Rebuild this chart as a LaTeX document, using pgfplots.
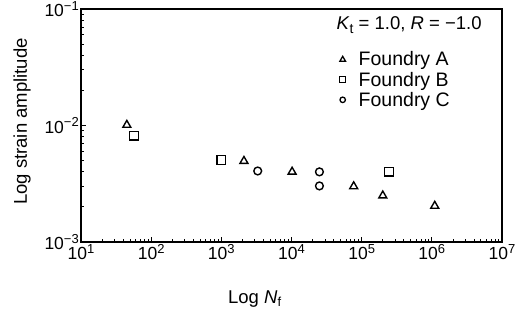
\documentclass[border=0pt]{standalone}
\usepackage{fontspec}
\setmainfont{Liberation Sans}
\usepackage{pgfplots}
\pgfplotsset{compat=1.18}
\newcommand\pw[1]{10\raisebox{6.5pt}{\fontsize{13}{13}\selectfont #1}}
\begin{document}
\begin{tikzpicture}[font=\fontsize{18.5}{22}\selectfont]
\begin{axis}[
  at={(0,0)}, anchor=south west,
  scale only axis, width=421pt, height=233pt,
  xmode=log, ymode=log,
  xmin=10, xmax=1e7, ymin=1e-3, ymax=1e-1,
  xtick={10,100,1000,10000,100000,1000000,10000000},
  xticklabels={\pw{1},\pw{2},\pw{3},\pw{4},\pw{5},\pw{6},\pw{7}},
  minor xtick={20,30,40,50,60,70,80,90,
    200,300,400,500,600,700,800,900,
    2e3,3e3,4e3,5e3,6e3,7e3,8e3,9e3,
    2e4,3e4,4e4,5e4,6e4,7e4,8e4,9e4,
    2e5,3e5,4e5,5e5,6e5,7e5,8e5,9e5,
    2e6,3e6,4e6,5e6,6e6,7e6,8e6,9e6},
  ytick={0.001,0.01,0.1},
  yticklabels={\pw{−3},\pw{−2},\pw{−1}},
  minor ytick={0.002,0.003,0.004,0.005,0.006,0.007,0.008,0.009,0.02,0.03,0.04,0.05,0.06,0.07,0.08,0.09},
  tick pos=left, tick align=inside,
  major tick length=5pt, minor tick length=3pt,
  every tick/.style={black, line width=0.9pt},
  axis line style={line width=1.2pt},
  ticklabel style={inner sep=2pt, font=\fontsize{17.5}{20}\selectfont},
  xlabel={Log \textit{N}\textsubscript{f}},
  xlabel style={at={(axis description cs:0.413,-0.245)}, anchor=center},
  ylabel={Log strain amplitude},
  ylabel style={at={(axis description cs:-0.140,0.517)}, anchor=center},
  legend style={draw=none, fill=none, at={(axis description cs:0.614,0.826)}, anchor=north west, inner sep=0pt, row sep=0.5pt,
    nodes={inner sep=2pt}, font=\fontsize{19.5}{22}\selectfont,
    /tikz/every odd column/.append style={column sep=11pt}},
  legend cell align=left,
  legend image post style={mark options={scale=0.7, line width=1.3pt, black, fill=none}},
]
\addplot[only marks, mark=triangle, mark size=4.6pt, mark options={line width=1.4pt, black}]
  coordinates {(45,0.0101) (2100,0.00495) (10200,0.004) (77000,0.003) (200000,0.0025) (1100000,0.00204)};
\addlegendentry{Foundry A}
\addplot[only marks, mark=square, mark size=4.3pt, mark options={line width=1.4pt, black}]
  coordinates {(57,0.0082) (1000,0.00506) (245000,0.004)};
\addlegendentry{Foundry B}
\addplot[only marks, mark=o, mark size=3.9pt, mark options={line width=1.4pt, black}]
  coordinates {(3300,0.00407) (25000,0.004) (25000,0.00303)};
\addlegendentry{Foundry C}
\node[anchor=east] at (axis description cs:0.96,0.931) {\textit{K}\raisebox{-4pt}{\fontsize{14}{14}\selectfont t} = 1.0, \textit{R} = −1.0};
\end{axis}
\pgfresetboundingbox
\path (-81pt,-73pt) rectangle (435pt,242pt);
\end{tikzpicture}
\end{document}
